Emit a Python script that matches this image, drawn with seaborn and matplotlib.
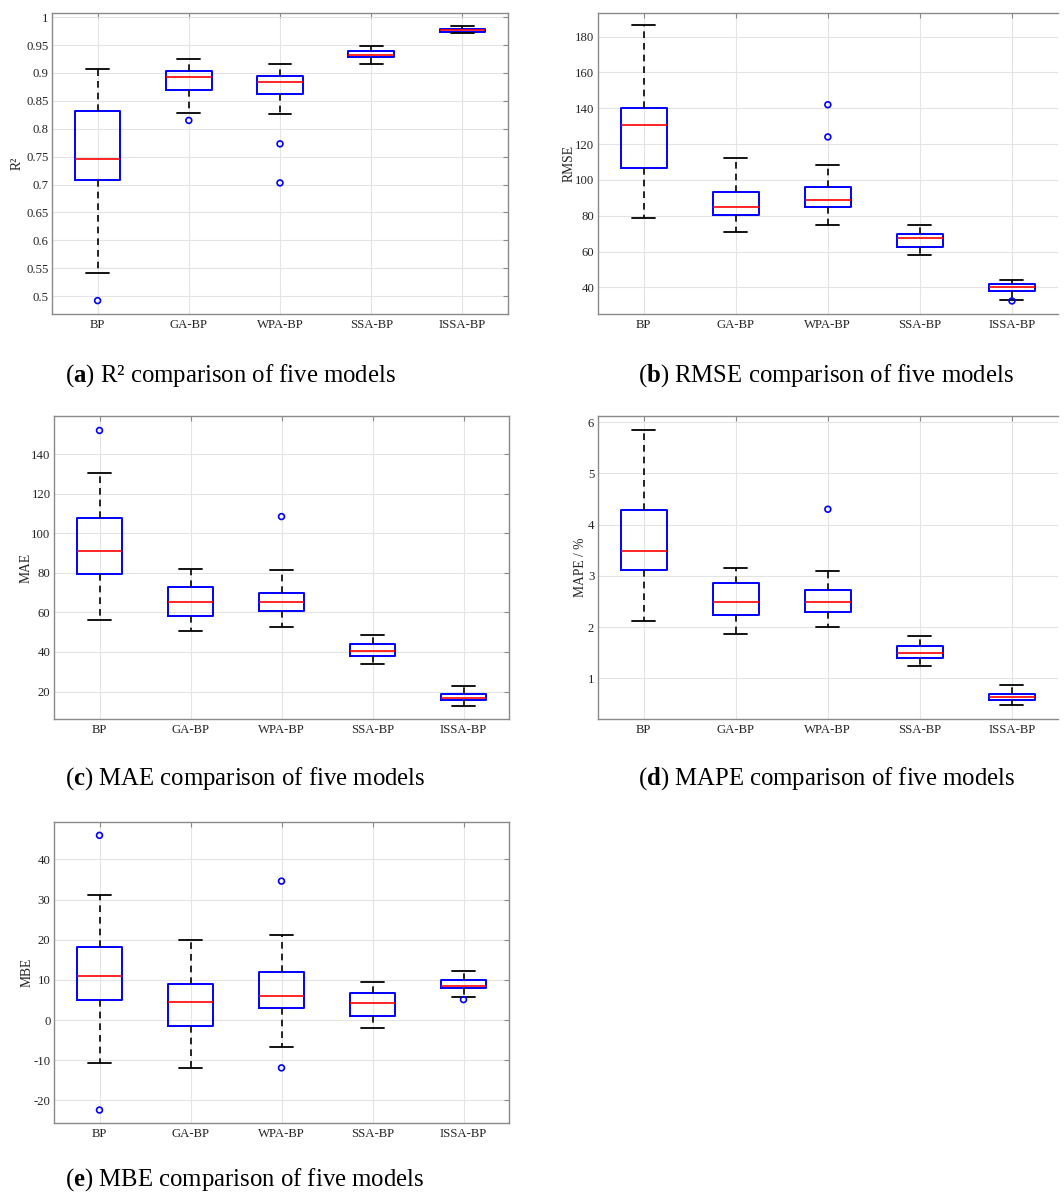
import numpy as np
import pandas as pd
import matplotlib
matplotlib.use("Agg")
import matplotlib.pyplot as plt
import seaborn as sns

models = ["BP", "GA-BP", "WPA-BP", "SSA-BP", "ISSA-BP"]

# Five-number summaries per model: lower whisker, Q1, median, Q3, upper whisker
r2_box = [
    [0.542, 0.709, 0.745, 0.831, 0.907],
    [0.829, 0.870, 0.893, 0.904, 0.925],
    [0.826, 0.862, 0.884, 0.894, 0.917],
    [0.916, 0.928, 0.933, 0.940, 0.949],
    [0.972, 0.974, 0.977, 0.979, 0.984],
]
r2_out_model = ["BP", "GA-BP", "WPA-BP", "WPA-BP"]
r2_out_value = [0.492, 0.815, 0.773, 0.703]

rmse_box = [
    [78.7, 106.5, 130.8, 140.3, 186.3],
    [70.9, 80.6, 85.0, 93.4, 112.0],
    [74.8, 84.7, 88.8, 96.0, 108.1],
    [58.2, 62.7, 67.4, 69.8, 74.8],
    [32.8, 37.8, 40.0, 41.9, 44.1],
]
rmse_out_model = ["WPA-BP", "WPA-BP", "ISSA-BP"]
rmse_out_value = [142.0, 124.0, 32.4]

mae_box = [
    [56.0, 79.6, 91.0, 107.5, 130.4],
    [50.8, 58.4, 65.3, 73.0, 81.9],
    [52.8, 60.7, 65.3, 69.8, 81.3],
    [34.0, 38.0, 40.4, 43.9, 48.8],
    [12.8, 15.6, 17.0, 18.8, 23.0],
]
mae_out_model = ["BP", "WPA-BP"]
mae_out_value = [151.9, 108.4]

mape_box = [
    [2.12, 3.11, 3.49, 4.28, 5.84],
    [1.86, 2.23, 2.49, 2.87, 3.15],
    [2.01, 2.29, 2.48, 2.73, 3.10],
    [1.25, 1.40, 1.50, 1.64, 1.82],
    [0.47, 0.58, 0.64, 0.70, 0.86],
]
mape_out_model = ["WPA-BP"]
mape_out_value = [4.30]

mbe_box = [
    [-10.6, 5.1, 10.9, 18.3, 31.1],
    [-11.9, -1.5, 4.6, 9.0, 19.9],
    [-6.6, 3.1, 6.1, 12.0, 21.2],
    [-2.0, 1.0, 4.2, 6.7, 9.4],
    [5.8, 8.0, 8.5, 10.1, 12.2],
]
mbe_out_model = ["BP", "BP", "WPA-BP", "WPA-BP", "ISSA-BP"]
mbe_out_value = [46.0, -22.4, 34.6, -11.9, 5.1]

sns.set_theme(style="white")
plt.rcParams["font.family"] = ["Liberation Serif", "DejaVu Serif"]
plt.rcParams["mathtext.fontset"] = "custom"
plt.rcParams["mathtext.rm"] = "Liberation Serif"
plt.rcParams["mathtext.bf"] = "Liberation Serif:bold"

SPINE = "#8a8a8a"
TEXT = "#262626"

W, H = 1064, 1196
fig = plt.figure(figsize=(W / 100, H / 100), dpi=100)


def px_axes(left, top, right, bottom):
    return fig.add_axes([left / W, 1 - bottom / H, (right - left) / W, (bottom - top) / H])


def draw_panel(ax, box, out_model, out_value, ylabel, ylim, yticks, label_x, open_right=False):
    df = pd.DataFrame({"model": np.repeat(models, 5), "value": np.ravel(box)})
    sns.boxplot(
        data=df, x="model", y="value", order=models, ax=ax,
        whis=(0, 100), width=0.5, fill=False, color="blue", showfliers=False,
        boxprops=dict(color="blue", linewidth=1.4),
        medianprops=dict(color="red", linewidth=1.2),
        whiskerprops=dict(color="black", linewidth=1.2, linestyle=(0, (4, 3))),
        capprops=dict(color="black", linewidth=1.3),
    )
    odf = pd.DataFrame({"model": out_model, "value": out_value})
    n_before = len(ax.collections)
    sns.stripplot(data=odf, x="model", y="value", order=models, ax=ax,
                  jitter=False, size=4.2, color="blue", linewidth=1.2,
                  edgecolor="blue", zorder=5)
    for coll in ax.collections[n_before:]:
        coll.set_facecolor("none")
        coll.set_edgecolor("blue")
        coll.set_linewidth(1.2)

    ax.set_xlim(-0.5, 4.5)
    ax.set_ylim(*ylim)
    ax.set_yticks(yticks)
    ax.set_yticklabels([f"{t:g}" for t in yticks])
    ax.set_xlabel("")
    ax.set_ylabel(ylabel, fontsize=9.8, color=TEXT)
    ax.yaxis.set_label_coords(label_x, 0.5)
    ax.grid(True, color="#e4e4e4", linewidth=0.8)
    ax.set_axisbelow(True)
    ax.tick_params(direction="in", top=True, right=not open_right, length=3.5,
                   width=0.8, color=SPINE, labelsize=9.2, labelcolor=TEXT)
    ax.tick_params(axis="y", pad=2.5)
    ax.tick_params(axis="x", pad=3.5)
    for name, sp in ax.spines.items():
        sp.set_color(SPINE)
        sp.set_linewidth(1.0)
        sp.set_visible(True)
    if open_right:
        ax.spines["right"].set_visible(False)


ax_a = px_axes(52, 13.3, 508, 314)
draw_panel(ax_a, r2_box, r2_out_model, r2_out_value, "R²", (0.468, 1.007),
           np.round(np.arange(0.5, 1.0001, 0.05), 2), -0.062)

ax_b = px_axes(597.7, 12.7, 1058, 314)
draw_panel(ax_b, rmse_box, rmse_out_model, rmse_out_value, "RMSE", (25.1, 193.4),
           np.arange(40, 181, 20), -0.047, open_right=True)

ax_c = px_axes(54, 416, 509, 719.3)
draw_panel(ax_c, mae_box, mae_out_model, mae_out_value, "MAE", (6.0, 159.2),
           np.arange(20, 141, 20), -0.047)

ax_d = px_axes(597.7, 416, 1058, 719.3)
draw_panel(ax_d, mape_box, mape_out_model, mape_out_value, "MAPE / %", (0.2, 6.12),
           np.arange(1, 7, 1), -0.023, open_right=True)

ax_e = px_axes(54, 821.7, 509, 1123.3)
draw_panel(ax_e, mbe_box, mbe_out_model, mbe_out_value, "MBE", (-25.7, 49.4),
           np.arange(-20, 41, 10), -0.045)

captions = [
    (65, 376, r"($\mathbf{a}$) R² comparison of five models"),
    (638, 376, r"($\mathbf{b}$) RMSE comparison of five models"),
    (65, 779, r"($\mathbf{c}$) MAE comparison of five models"),
    (638, 779, r"($\mathbf{d}$) MAPE comparison of five models"),
    (65, 1180, r"($\mathbf{e}$) MBE comparison of five models"),
]
for x, y, s in captions:
    fig.text(x / W, 1 - y / H, s, fontsize=17.8, color="black", ha="left", va="center")

fig.savefig("out.png", dpi=100, facecolor="white")
